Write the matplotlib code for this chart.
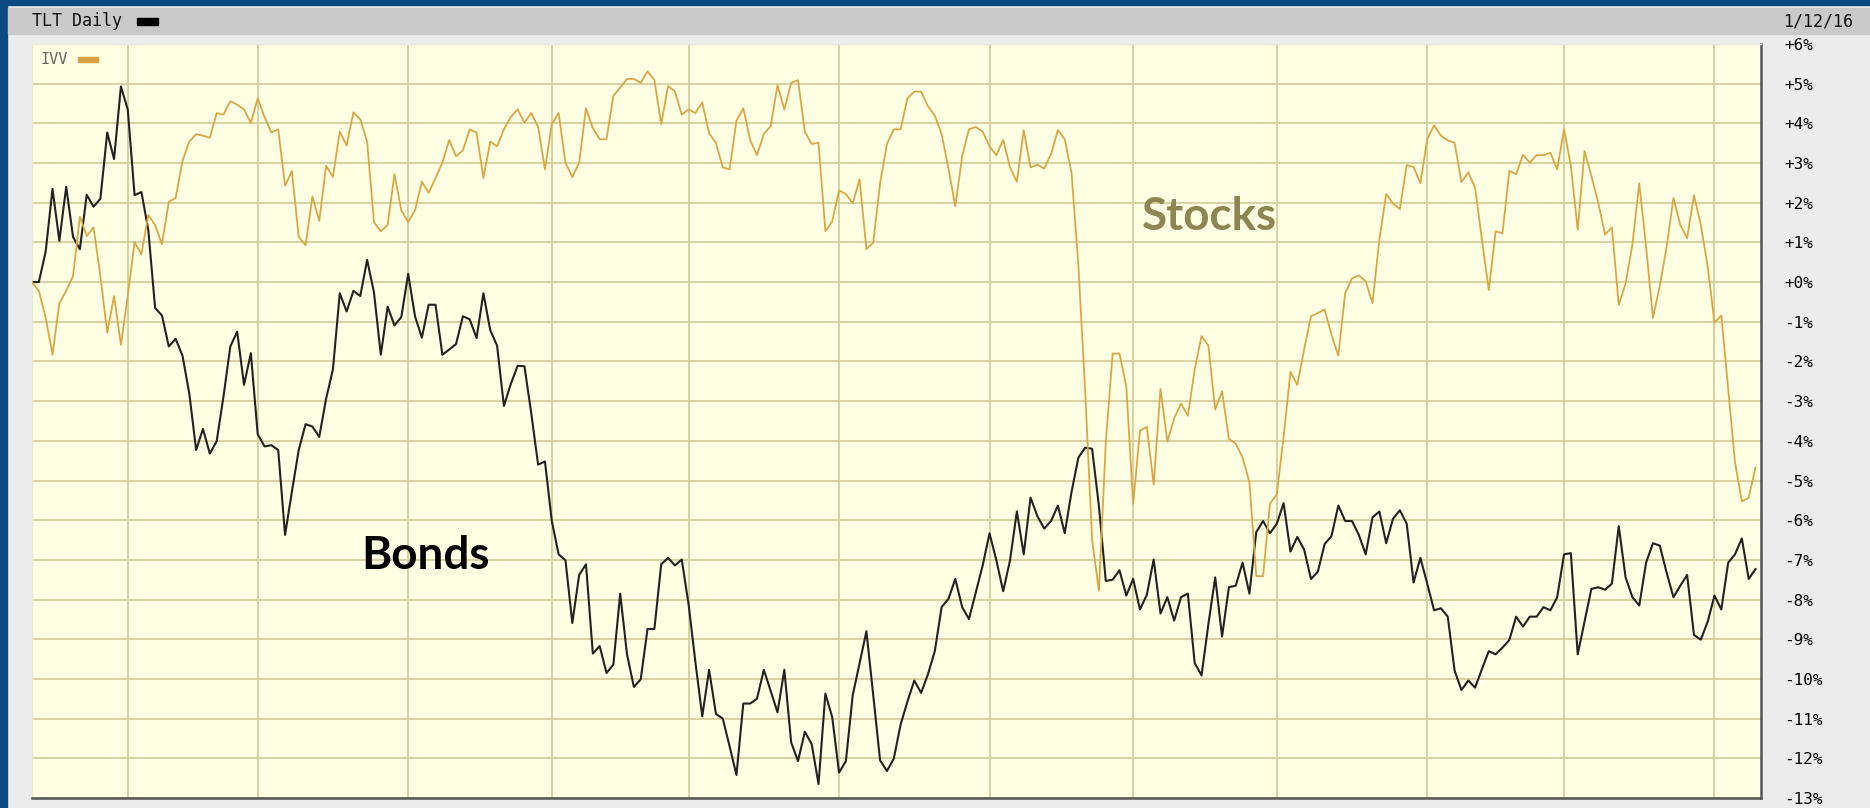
import numpy as np
import matplotlib
matplotlib.use("Agg")
from matplotlib import pyplot as plt
from matplotlib.patches import Rectangle

# =============================================================================
# data: cumulative % change since 1/12/15, one value per trading day
# =============================================================================
tlt_pct = [
    0.0, 0.0, 0.77, 2.35, 1.04, 2.4, 1.14, 0.83, 2.2, 1.9,
    2.1, 3.77, 3.1, 4.93, 4.35, 2.19, 2.27, 1.32, -0.65, -0.84,
    -1.62, -1.43, -1.85, -2.81, -4.23, -3.7, -4.32, -4.01, -2.88, -1.62,
    -1.25, -2.59, -1.79, -3.83, -4.14, -4.11, -4.23, -6.37, -5.28, -4.23,
    -3.58, -3.64, -3.9, -2.94, -2.2, -0.28, -0.74, -0.22, -0.35, 0.56,
    -0.26, -1.83, -0.62, -1.09, -0.88, 0.21, -0.86, -1.4, -0.57, -0.57,
    -1.83, -1.7, -1.56, -0.86, -0.94, -1.41, -0.28, -1.21, -1.6, -3.12,
    -2.57, -2.11, -2.12, -3.31, -4.6, -4.52, -6.02, -6.86, -7.01, -8.59,
    -7.38, -7.11, -9.36, -9.17, -9.85, -9.64, -7.85, -9.38, -10.2, -10.01,
    -8.74, -8.74, -7.11, -6.95, -7.14, -6.99, -8.12, -9.58, -10.94, -9.77,
    -10.88, -11.0, -11.7, -12.42, -10.62, -10.62, -10.5, -9.77, -10.3, -10.84,
    -9.77, -11.6, -12.07, -11.33, -11.64, -12.65, -10.37, -10.96, -12.36, -12.07,
    -10.41, -9.6, -8.8, -10.41, -12.05, -12.32, -12.01, -11.15, -10.57, -10.04,
    -10.35, -9.88, -9.3, -8.19, -7.98, -7.48, -8.19, -8.49, -7.81, -7.14,
    -6.33, -7.01, -7.79, -7.01, -5.78, -6.86, -5.43, -5.9, -6.21, -6.02,
    -5.63, -6.33, -5.28, -4.42, -4.17, -4.2, -5.65, -7.53, -7.5, -7.26,
    -7.9, -7.48, -8.25, -7.88, -6.99, -8.35, -7.94, -8.53, -7.94, -7.85,
    -9.6, -9.91, -8.62, -7.44, -8.93, -7.69, -7.65, -7.07, -7.85, -6.3,
    -6.02, -6.33, -6.09, -5.57, -6.79, -6.42, -6.74, -7.48, -7.3, -6.6,
    -6.4, -5.63, -6.02, -6.02, -6.37, -6.86, -5.93, -5.78, -6.58, -5.96,
    -5.75, -6.09, -7.57, -6.95, -7.6, -8.27, -8.22, -8.43, -9.79, -10.28,
    -10.04, -10.22, -9.75, -9.3, -9.38, -9.21, -9.02, -8.43, -8.68, -8.43,
    -8.43, -8.19, -8.27, -7.94, -6.86, -6.83, -9.38, -8.56, -7.73, -7.69,
    -7.75, -7.6, -6.15, -7.44, -7.94, -8.15, -7.07, -6.58, -6.64, -7.32,
    -7.94, -7.65, -7.38, -8.89, -9.01, -8.56, -7.9, -8.25, -7.07, -6.86,
    -6.46, -7.48, -7.23,
]

ivv_pct = [
    0.0, -0.22, -0.9, -1.83, -0.53, -0.22, 0.15, 1.65, 1.16, 1.38,
    0.15, -1.27, -0.35, -1.58, -0.35, 1.01, 0.7, 1.69, 1.44, 0.95,
    2.02, 2.12, 3.05, 3.54, 3.73, 3.69, 3.64, 4.26, 4.22, 4.56,
    4.47, 4.35, 4.01, 4.63, 4.16, 3.77, 3.85, 2.43, 2.8, 1.14,
    0.93, 2.16, 1.54, 2.93, 2.65, 3.79, 3.44, 4.28, 4.1, 3.54,
    1.51, 1.28, 1.44, 2.72, 1.81, 1.51, 1.81, 2.53, 2.25, 2.62,
    3.01, 3.58, 3.17, 3.32, 3.85, 3.77, 2.62, 3.54, 3.42, 3.85,
    4.16, 4.35, 4.02, 4.26, 3.91, 2.84, 3.98, 4.26, 3.01, 2.64,
    3.01, 4.38, 3.88, 3.6, 3.6, 4.69, 4.9, 5.12, 5.12, 5.02,
    5.31, 5.09, 3.98, 4.94, 4.81, 4.22, 4.35, 4.26, 4.53, 3.75,
    3.51, 2.89, 2.84, 4.07, 4.38, 3.58, 3.2, 3.73, 3.93, 4.96,
    4.35, 5.02, 5.09, 3.79, 3.48, 3.51, 1.28, 1.53, 2.31, 2.22,
    1.98, 2.59, 0.83, 0.99, 2.49, 3.48, 3.85, 3.85, 4.63, 4.8,
    4.8, 4.43, 4.2, 3.73, 2.86, 1.91, 3.17, 3.85, 3.91, 3.79,
    3.42, 3.2, 3.58, 2.89, 2.53, 3.83, 2.89, 2.96, 2.86, 3.23,
    3.83, 3.6, 2.74, 0.4, -2.8, -6.5, -7.78, -4.05, -1.8, -1.8,
    -2.63, -5.59, -3.74, -3.65, -5.1, -2.69, -4.02, -3.43, -3.06, -3.37,
    -2.2, -1.36, -1.6, -3.21, -2.75, -3.95, -4.07, -4.42, -5.04, -7.41,
    -7.41, -5.59, -5.35, -3.9, -2.26, -2.59, -1.7, -0.86, -0.78, -0.69,
    -1.33, -1.85, -0.28, 0.09, 0.17, 0.02, -0.53, 1.07, 2.22, 1.98,
    1.84, 2.95, 2.9, 2.49, 3.6, 3.95, 3.69, 3.57, 3.51, 2.52,
    2.77, 2.37, 1.07, -0.2, 1.28, 1.23, 2.8, 2.72, 3.21, 3.01,
    3.2, 3.2, 3.26, 2.84, 3.85, 2.93, 1.32, 3.3, 2.68, 2.0,
    1.2, 1.38, -0.57, -0.04, 0.95, 2.49, 0.89, -0.9, -0.1, 0.89,
    2.12, 1.44, 1.11, 2.19, 1.44, 0.4, -1.02, -0.84, -2.69, -4.54,
    -5.53, -5.43, -4.67,
]

# trading-day index of the first session of each month (Feb 2015 .. Jan 2016)
month_starts = [14, 33, 55, 76, 96, 118, 140, 161, 182, 204, 224, 246]

y_ticks = list(range(-13, 7))
y_labels = [("+%d%%" % v) if v >= 0 else ("%d%%" % v) for v in y_ticks]

# =============================================================================
# figure
# =============================================================================
W, H = 1870, 808
fig = plt.figure(figsize=(W / 100, H / 100), dpi=100, facecolor="#ececec")


def fx(px):
    return px / W


def fy(py):
    # pixel row measured from the top -> figure fraction
    return 1 - py / H


# frame and header bar
fig.patches.append(Rectangle((0, fy(5)), 1, 5 / H, transform=fig.transFigure,
                             color="#0e4a82", zorder=0))
fig.patches.append(Rectangle((0, 0), fx(7), 1, transform=fig.transFigure,
                             color="#0e4a82", zorder=0))
fig.patches.append(Rectangle((fx(8), fy(34)), 1 - fx(8), 26 / H,
                             transform=fig.transFigure, color="#c9c9c9", zorder=0))

fig.text(fx(32), fy(21), "TLT Daily", family="DejaVu Sans Mono", fontsize=12,
         va="center", ha="left", color="#111111")
fig.patches.append(Rectangle((fx(137), fy(25)), fx(21), 7 / H,
                             transform=fig.transFigure, color="#000000", zorder=2))
fig.text(fx(1783), fy(21), "1/12/16", family="DejaVu Sans Mono", fontsize=12,
         va="center", ha="left", color="#111111")

ax = fig.add_axes([fx(32), 10 / H, (1761 - 32) / W, (798 - 44) / H])
ax.set_facecolor("#ffffe4")

days = np.arange(len(tlt_pct))
ax.plot(days, tlt_pct, color="#222222", lw=1.5, zorder=3)
ax.plot(days, ivv_pct, color="#dba746", lw=1.3, zorder=4)

ax.set_xlim(0, 252.8)
ax.set_ylim(-13, 6)

ax.set_xticks(month_starts)
ax.set_xticklabels([])
ax.set_yticks(y_ticks)
ax.set_yticklabels(y_labels, family="DejaVu Sans Mono", fontsize=11.5)
ax.yaxis.tick_right()
ax.tick_params(axis="both", length=0)
ax.tick_params(axis="y", pad=17)
ax.grid(True, color="#d3cf9f", lw=1.3, zorder=1)
ax.set_axisbelow(True)

for side in ["top", "left"]:
    ax.spines[side].set_color("#e8e8d8")
    ax.spines[side].set_linewidth(1.0)
for side in ["right", "bottom"]:
    ax.spines[side].set_color("#555555")
    ax.spines[side].set_linewidth(1.8)

# overlay legend inside the plot
fig.text(fx(40), fy(59), "IVV", family="DejaVu Sans Mono", fontsize=11,
         va="center", ha="left", color="#666666")
fig.patches.append(Rectangle((fx(78), fy(62)), fx(20), 5 / H,
                             transform=fig.transFigure, color="#d9a040", zorder=5))

# annotations
ax.text(57.6, -6.9, "Bonds", family="Lato", fontweight="bold", fontsize=33,
        color="#000000", ha="center", va="center", zorder=6)
ax.text(172.2, 1.63, "Stocks", family="Lato", fontweight="bold", fontsize=33,
        color="#8d8652", ha="center", va="center", zorder=6)

fig.savefig("out.png", dpi=100, facecolor=fig.get_facecolor())
